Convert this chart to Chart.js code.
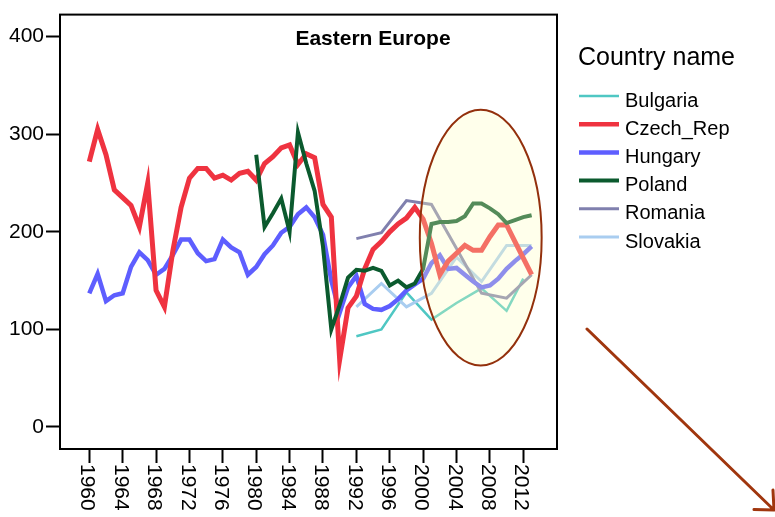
<!DOCTYPE html>
<html>
<head>
<meta charset="utf-8">
<title>Eastern Europe</title>
<script src="https://cdn.jsdelivr.net/npm/chart.js@4.4.1/dist/chart.umd.min.js"></script>
<style>
  body { margin: 0; background: #fff; }
  #wrap { width: 775px; height: 517px; }
</style>
</head>
<body>
<div id="wrap"><canvas id="chart" width="775" height="517"></canvas></div>
<script>
const FONT = "'Liberation Sans', Arial, sans-serif";

// tick labels
const xTicks = [1960, 1964, 1968, 1972, 1976, 1980, 1984, 1988, 1992, 1996, 2000, 2004, 2008, 2012];
const yTicks = [0, 100, 200, 300, 400];

// yearly series (Czech_Rep, Hungary)
const longYears = [
  1960, 1961, 1962, 1963, 1964, 1965, 1966, 1967, 1968, 1969,
  1970, 1971, 1972, 1973, 1974, 1975, 1976, 1977, 1978, 1979,
  1980, 1981, 1982, 1983, 1984, 1985, 1986, 1987, 1988, 1989,
  1990, 1991, 1992, 1993, 1994, 1995, 1996, 1997, 1998, 1999,
  2000, 2001, 2002, 2003, 2004, 2005, 2006, 2007, 2008, 2009,
  2010, 2011, 2012, 2013
];
const czech = [
  272, 305, 279, 243, 235, 227, 205, 250, 140, 123,
  180, 225, 255, 265, 265, 255, 258, 253, 260, 262,
  253, 270, 277, 286, 289, 269, 280, 276, 228, 215,
  69, 122, 134, 162, 182, 190, 200, 208, 214, 225,
  213, 188, 156, 170, 178, 186, 181, 181, 195, 207,
  207, 190, 173, 156
];
const hungary = [
  137, 157, 129, 135, 137, 164, 179, 171, 156, 162,
  176, 192, 192, 178, 170, 172, 192, 184, 179, 156,
  164, 177, 186, 199, 205, 218, 225, 215, 197, 150,
  117, 143, 155, 126, 121, 120, 124, 131, 140, 146,
  152, 168, 176, 162, 163, 156, 149, 143, 145, 152,
  162, 170, 177, 185
];

// Poland from 1980
const polandYears = [
  1980, 1981, 1982, 1983, 1984, 1985, 1986, 1987, 1988, 1989,
  1990, 1991, 1992, 1993, 1994, 1995, 1996, 1997, 1998, 1999,
  2000, 2001, 2002, 2003, 2004, 2005, 2006, 2007, 2008, 2009,
  2010, 2011, 2012, 2013
];
const poland = [
  279, 205, 219, 234, 200, 302, 270, 242, 185, 100,
  125, 153, 161, 160, 163, 160, 145, 150, 143, 147,
  162, 208, 210, 210, 211, 216, 229, 229, 224, 218,
  209, 212, 215, 217
];

// three-yearly series
const triYears = [1992, 1995, 1998, 2001, 2004, 2007, 2010, 2013];
const romania = [193, 199, 232, 228, 183, 137, 132, 156];
const slovakia = [123, 147, 123, 137, 174, 149, 186, 186];
const bulgariaYears = [1992, 1995, 1998, 2001, 2004, 2007, 2010, 2012];
const bulgaria = [93, 100, 138, 110, 127, 142, 119, 152];

function points(years, values) {
  return years.map((yr, i) => ({ x: yr, y: values[i] }));
}

function series(label, years, values, color, width, order) {
  return {
    label: label,
    data: points(years, values),
    borderColor: color,
    backgroundColor: color,
    borderWidth: width,
    pointRadius: 0,
    tension: 0,
    fill: false,
    order: order
  };
}

const datasets = [
  series('Bulgaria', bulgariaYears, bulgaria, '#4FC7C3', 2.5, 5),
  series('Czech_Rep', longYears, czech, '#EF3340', 5, 1),
  series('Hungary', longYears, hungary, '#5E5EFF', 4.5, 2),
  series('Poland', polandYears, poland, '#0B5A2E', 4, 0),
  series('Romania', triYears, romania, '#8080AE', 3, 3),
  series('Slovakia', triYears, slovakia, '#A9CDF0', 3, 4)
];

const decor = {
  id: 'decor',
  afterDatasetsDraw(chart) {
    const { ctx, chartArea: a, scales: { x, y } } = chart;
    // highlight ellipse around the latest years
    const cx = x.getPixelForValue(2006.9);
    const cy = y.getPixelForValue(194);
    const rx = x.getPixelForValue(2006.9 + 7.3) - cx;
    const ry = cy - y.getPixelForValue(194 + 131);
    ctx.save();
    ctx.beginPath();
    ctx.ellipse(cx, cy, rx, ry, 0, 0, Math.PI * 2);
    ctx.fillStyle = 'rgba(255, 255, 190, 0.3)';
    ctx.fill();
    ctx.lineWidth = 2;
    ctx.strokeStyle = '#93300C';
    ctx.stroke();
    ctx.restore();

    // frame
    ctx.save();
    ctx.lineWidth = 2;
    ctx.strokeStyle = '#000';
    ctx.strokeRect(a.left, a.top, a.right - a.left, a.bottom - a.top);
    ctx.restore();
  },
  afterDraw(chart) {
    const { ctx, chartArea: a, scales: { x } } = chart;
    ctx.save();

    // title
    ctx.fillStyle = '#000';
    ctx.font = 'bold 21px ' + FONT;
    ctx.textAlign = 'center';
    ctx.textBaseline = 'alphabetic';
    ctx.fillText('Eastern Europe', 373, a.top + 30);

    // x labels, turned clockwise
    ctx.font = '21px ' + FONT;
    ctx.textAlign = 'left';
    ctx.textBaseline = 'middle';
    xTicks.forEach(v => {
      ctx.save();
      ctx.translate(x.getPixelForValue(v) - 2, a.bottom + 15);
      ctx.rotate(Math.PI / 2);
      ctx.fillText(String(v), 0, 0);
      ctx.restore();
    });

    // legend
    const lx = a.right + 22;
    ctx.font = '25px ' + FONT;
    ctx.textBaseline = 'alphabetic';
    ctx.fillText('Country name', lx - 1, 65);
    ctx.font = '20px ' + FONT;
    chart.data.datasets.forEach((ds, i) => {
      const ly = 96 + i * 28.2;
      ctx.beginPath();
      ctx.moveTo(lx, ly);
      ctx.lineTo(lx + 40, ly);
      ctx.lineWidth = Math.min(ds.borderWidth, 4.5);
      ctx.strokeStyle = ds.borderColor;
      ctx.stroke();
      ctx.fillStyle = '#000';
      ctx.fillText(ds.label, lx + 46, ly + 10.5);
    });

    // arrow
    const sx = a.right + 30, sy = 329, ex = 774, ey = 510;
    ctx.strokeStyle = '#A0360E';
    ctx.lineWidth = 3;
    ctx.lineCap = 'round';
    ctx.beginPath();
    ctx.moveTo(sx, sy);
    ctx.lineTo(ex, ey);
    const ang = Math.atan2(ey - sy, ex - sx);
    [ang + Math.PI - 0.75, ang + Math.PI + 0.75].forEach(t => {
      ctx.moveTo(ex, ey);
      ctx.lineTo(ex + 20 * Math.cos(t), ey + 20 * Math.sin(t));
    });
    ctx.stroke();
    ctx.restore();
  }
};

const axisGrid = { drawOnChartArea: false, tickLength: 14, tickWidth: 2, tickColor: '#000' };
const axisBorder = { color: '#000', width: 2 };

new Chart(document.getElementById('chart'), {
  type: 'line',
  data: { datasets: datasets },
  options: {
    responsive: false,
    animation: false,
    layout: { padding: { top: 10, right: 218, left: 0, bottom: 0 } },
    plugins: { legend: { display: false }, tooltip: { enabled: false } },
    scales: {
      x: {
        type: 'linear',
        min: 1956.49,
        max: 2016.04,
        afterFit: s => { s.height = 68; },
        afterBuildTicks: s => { s.ticks = xTicks.map(v => ({ value: v })); },
        grid: axisGrid,
        border: axisBorder,
        ticks: { display: false }
      },
      y: {
        min: -22.6,
        max: 422.6,
        afterFit: s => { s.width = 60; },
        afterBuildTicks: s => { s.ticks = yTicks.map(v => ({ value: v })); },
        grid: axisGrid,
        border: axisBorder,
        ticks: { color: '#000', padding: 2, font: { size: 21, family: FONT } }
      }
    }
  },
  plugins: [decor]
});
</script>
</body>
</html>
